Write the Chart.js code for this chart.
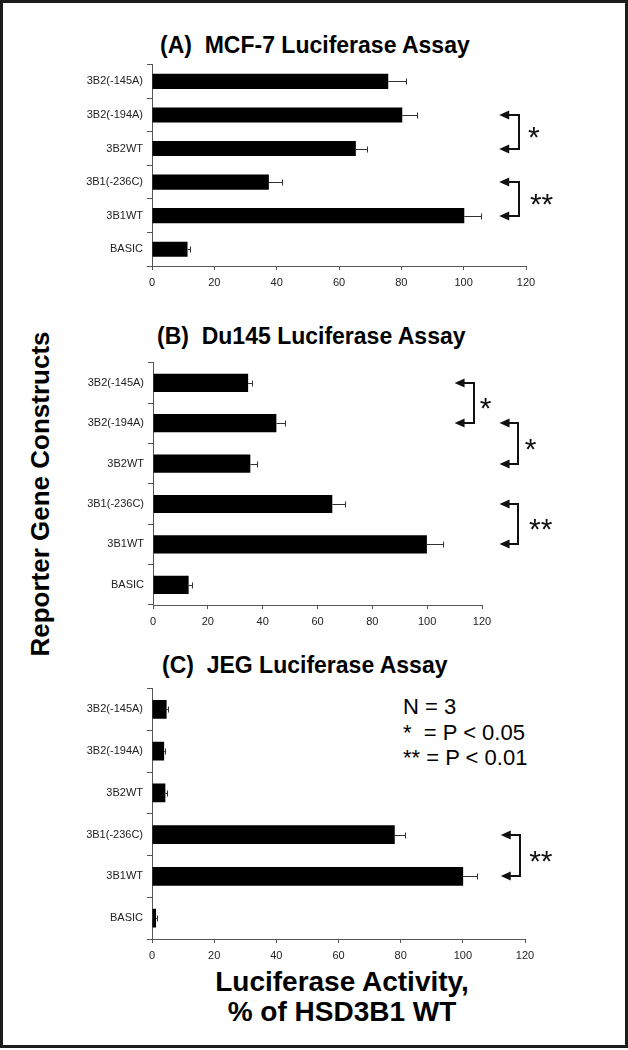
<!DOCTYPE html>
<html><head><meta charset="utf-8">
<script src="https://cdn.jsdelivr.net/npm/chart.js@4.4.1/dist/chart.umd.min.js"></script>
<style>
html,body{margin:0;padding:0;background:#fff;}
body{width:628px;height:1050px;position:relative;overflow:hidden;font-family:'Liberation Sans',Arial,sans-serif;color:#000;}
.frame{position:absolute;left:0;top:0;width:622px;height:1042px;border:3px solid #1c1c1c;}
.box{position:absolute;left:0;width:628px;}
.ptitle{position:absolute;font-weight:bold;font-size:23px;line-height:24px;white-space:pre;}
#ytitle{position:absolute;left:40px;top:494px;transform:translate(-50%,-50%) rotate(-90deg);font-weight:bold;font-size:26px;line-height:30px;white-space:nowrap;}
#xtitle{position:absolute;left:342px;top:967px;transform:translateX(-50%);text-align:center;font-weight:bold;font-size:28px;line-height:30px;white-space:nowrap;}
#legend{position:absolute;left:403px;top:694px;font-size:22px;line-height:25.5px;white-space:pre;}
</style></head>
<body>
<div class="frame"></div>
<div class="ptitle" style="left:160px;top:33px;">(A)  MCF-7 Luciferase Assay</div>
<div class="ptitle" style="left:157px;top:324px;">(B)  Du145 Luciferase Assay</div>
<div class="ptitle" style="left:162px;top:653px;">(C)  JEG Luciferase Assay</div>
<div id="ytitle">Reporter Gene Constructs</div>
<div id="xtitle">Luciferase Activity,<br>% of HSD3B1 WT</div>
<div id="legend">N = 3
*  = P &lt; 0.05
** = P &lt; 0.01</div>
<div class="box" style="top:54px;height:242px;"><canvas id="cA"></canvas></div>
<div class="box" style="top:352px;height:283px;"><canvas id="cB"></canvas></div>
<div class="box" style="top:678px;height:291px;"><canvas id="cC"></canvas></div>
<script>
const categories = ['3B2(-145A)', '3B2(-194A)', '3B2WT', '3B1(-236C)', '3B1WT', 'BASIC'];
const mcf7Values = [75.8, 80.3, 65.4, 37.5, 100.2, 11.4];
const mcf7Errors = [5.7, 4.8, 3.7, 4.3, 5.5, 0.8];
const du145Values = [34.7, 45.0, 35.5, 65.4, 99.9, 13.0];
const du145Errors = [1.4, 3.0, 2.6, 4.8, 5.8, 1.4];
const jegValues = [4.7, 3.9, 4.3, 78.1, 100.1, 1.3];
const jegErrors = [0.5, 0.4, 0.5, 3.2, 4.3, 0.3];
const xMin = 0, xMax = 120, xStep = 20;

// significance brackets: category indices and label
const mcf7Sig = [{from: 1, to: 2, label: '*'}, {from: 3, to: 4, label: '**'}];
const du145Sig = [{from: 0, to: 1, label: '*'}, {from: 1, to: 2, label: '*'}, {from: 3, to: 4, label: '**'}];
const jegSig = [{from: 3, to: 4, label: '**'}];

const FONT = "'Liberation Sans', Arial, sans-serif";

const errorBars = {
  id: 'errorBars',
  afterDatasetsDraw(chart, args, opts) {
    const ctx = chart.ctx, xs = chart.scales.x;
    const meta = chart.getDatasetMeta(0);
    const vals = chart.data.datasets[0].data;
    ctx.save();
    ctx.strokeStyle = '#333'; ctx.lineWidth = 1;
    meta.data.forEach((bar, i) => {
      const xe = Math.round(xs.getPixelForValue(vals[i] + opts.errors[i])) + 0.5;
      const y = Math.round(bar.y) + 0.5;
      ctx.beginPath();
      ctx.moveTo(bar.x, y); ctx.lineTo(xe, y);
      ctx.moveTo(xe, y - 3); ctx.lineTo(xe, y + 3);
      ctx.stroke();
    });
    ctx.restore();
  }
};

const brackets = {
  id: 'brackets',
  afterDraw(chart, args, opts) {
    const ctx = chart.ctx, xs = chart.scales.x, ys = chart.scales.y;
    ctx.save();
    ctx.strokeStyle = '#111'; ctx.fillStyle = '#111'; ctx.lineWidth = 2;
    opts.items.forEach((b, k) => {
      const pos = opts.pos[k];
      const y1 = Math.round(ys.getPixelForValue(b.from)), y2 = Math.round(ys.getPixelForValue(b.to));
      const xt = xs.getPixelForValue(pos.tip), xl = Math.round(xs.getPixelForValue(pos.line));
      ctx.beginPath();
      ctx.moveTo(xt + 6, y1); ctx.lineTo(xl, y1); ctx.lineTo(xl, y2); ctx.lineTo(xt + 6, y2);
      ctx.stroke();
      [y1, y2].forEach(yy => {
        ctx.beginPath(); ctx.moveTo(xt, yy); ctx.lineTo(xt + 10, yy - 4.5); ctx.lineTo(xt + 10, yy + 4.5); ctx.closePath(); ctx.fill();
      });
      ctx.font = '30px ' + FONT; ctx.textAlign = 'center'; ctx.textBaseline = 'alphabetic';
      ctx.fillText(b.label, xs.getPixelForValue(pos.label), (y1 + y2) / 2 + 15);
    });
    ctx.restore();
  }
};

function makeChart(id, values, errors, sig, pos, left, right, top) {
  return new Chart(document.getElementById(id), {
    type: 'bar',
    data: {labels: categories, datasets: [{data: values, backgroundColor: '#000', borderWidth: 0, barPercentage: 0.45, categoryPercentage: 1}]},
    options: {
      indexAxis: 'y', responsive: true, maintainAspectRatio: false, animation: false,
      layout: {padding: {left: 0, right: 628 - right, top: top, bottom: 0}},
      plugins: {legend: {display: false}, tooltip: {enabled: false}, title: {display: false},
        errorBars: {errors: errors}, brackets: {items: sig, pos: pos}},
      scales: {
        x: {min: xMin, max: xMax, afterFit(s) { s.height = 30; },
          ticks: {stepSize: xStep, padding: 6, color: '#222', font: {family: FONT, size: 11}},
          grid: {drawOnChartArea: false, drawTicks: true, tickLength: 4, color: '#555'},
          border: {display: true, color: '#555', width: 1}},
        y: {afterFit(s) { s.width = left; },
          ticks: {padding: 4, color: '#222', font: {family: FONT, size: 11}},
          grid: {drawOnChartArea: false, drawTicks: true, tickLength: 5, offset: true, color: '#555'},
          border: {display: true, color: '#555', width: 1}}
      }
    },
    plugins: [errorBars, brackets]
  });
}

makeChart('cA', mcf7Values, mcf7Errors, mcf7Sig,
  [{tip: 111.4, line: 117.7, label: 122.5}, {tip: 111.4, line: 117.7, label: 125}], 152, 526, 10);
makeChart('cB', du145Values, du145Errors, du145Sig,
  [{tip: 110, line: 117.1, label: 121.3}, {tip: 126.4, line: 133.1, label: 137.7}, {tip: 126.4, line: 133.1, label: 141.4}], 153, 482, 10);
makeChart('cC', jegValues, jegErrors, jegSig,
  [{tip: 112.2, line: 118.4, label: 125.1}], 152, 525, 10);
</script>
</body></html>
